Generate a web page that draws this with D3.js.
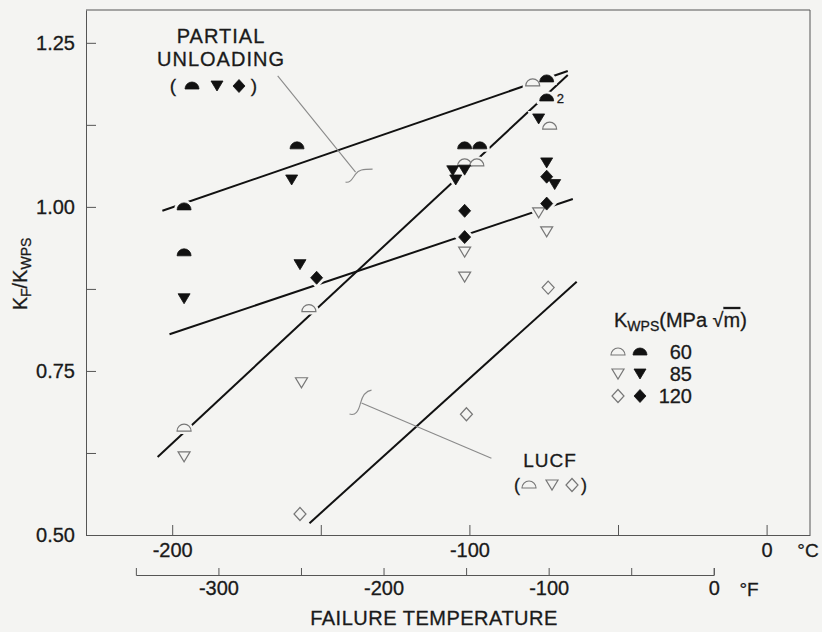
<!DOCTYPE html>
<html>
<head>
<meta charset="utf-8">
<script src="https://cdn.jsdelivr.net/npm/d3@7"></script>
<style>
  body { margin: 0; background: #f4f4f2; }
  svg { display: block; }
  text { font-family: "Liberation Sans", Arial, Helvetica, sans-serif; fill: #1a1a1a; stroke: #1a1a1a; stroke-width: 0.3px; }
</style>
</head>
<body>
<div id="chart"></div>
<script>
// K_WPS levels (MPa sqrt m)
const kwpsLevels = [60, 85, 120];

// [failure temperature degC, Kf/Kwps]  -- partial unloading (filled)
const pu60 = [[-196, 1.00], [-196, 0.93], [-158, 1.093], [-101.6, 1.093], [-96.5, 1.093], [-74, 1.195], [-74, 1.166]];
const pu85 = [[-196, 0.86], [-159.8, 1.041], [-157, 0.912], [-105.6, 1.055], [-101.6, 1.056], [-104.6, 1.041], [-76.7, 1.134], [-74, 1.067], [-71.3, 1.034]];
const pu120 = [[-151.4, 0.892], [-101.6, 0.994], [-101.6, 0.954], [-74, 1.046], [-74, 1.005]];

// LUCF (open)
const lucf60 = [[-196, 0.663], [-154, 0.845], [-101.6, 1.067], [-97.5, 1.067], [-78.7, 1.189], [-73, 1.123]];
const lucf85 = [[-196, 0.619], [-156.5, 0.732], [-101.6, 0.931], [-101.6, 0.893], [-76.7, 0.991], [-74, 0.962]];
const lucf120 = [[-157, 0.532], [-101, 0.684], [-73.5, 0.877]];

// fitted trend lines, end points [degC, Kf/Kwps]
const fitTop = [[-203.3, 0.994], [-66.9, 1.207]];
const fitSteep = [[-204.9, 0.619], [-66.9, 1.201]];
const fitMid = [[-200.9, 0.806], [-65.2, 1.012]];
const fitLow = [[-153.8, 0.518], [-63.9, 0.886]];

// axis ticks
const yTicks = [0.5, 0.625, 0.75, 0.875, 1.0, 1.125, 1.25];
const yLabels = [0.5, 0.75, 1.0, 1.25];
const cTicks = [-200, -150, -100, -50, 0];
const cLabels = [-200, -100, 0];
const fTicks = [-300, -250, -200, -150, -100, -50, 0];
const fLabels = [-300, -200, -100, 0];

const W = 822, H = 632;
const bg = "#f4f4f2";
const plot = { left: 86, right: 810, top: 10, bottom: 535 };

const svg = d3.select("#chart").append("svg")
  .attr("width", W)
  .attr("height", H);

svg.append("rect").attr("width", W).attr("height", H).attr("fill", bg);

const x = d3.scaleLinear().domain([-229, 14.6]).range([plot.left, plot.right]);
const y = d3.scaleLinear().domain([0.5, 1.3]).range([plot.bottom, plot.top]);
const fToC = f => (f - 32) * 5 / 9;
const xF = d3.scaleLinear().domain([-350, 0]).range([x(fToC(-350)), x(fToC(0))]);

const shapes = {
  half: "M-7,3A7,7 0 0 1 7,3Z",
  tri: "M-6,-5L6,-5L0,5Z",
  dia: "M0,-6.5L6,0L0,6.5L-6,0Z"
};

// frame (top + right)
svg.append("path")
  .attr("d", `M${plot.left},${plot.top}H${plot.right}V${plot.bottom}`)
  .attr("fill", "none")
  .attr("stroke", "#555")
  .attr("stroke-width", 1);

// y axis
const yAxis = svg.append("g")
  .attr("transform", `translate(${plot.left},0)`)
  .call(d3.axisLeft(y).tickValues(yTicks).tickSizeInner(-10).tickSizeOuter(0).tickPadding(11)
    .tickFormat(d => yLabels.includes(d) ? d3.format(".2f")(d) : ""));

// celsius axis
const cAxis = svg.append("g")
  .attr("transform", `translate(0,${plot.bottom})`)
  .call(d3.axisBottom(x).tickValues(cTicks).tickSizeInner(-10).tickSizeOuter(0).tickPadding(8)
    .tickFormat(d => cLabels.includes(d) ? d : ""));

// fahrenheit axis
const fAxis = svg.append("g")
  .attr("transform", "translate(0,575)")
  .call(d3.axisBottom(xF).tickValues(fTicks).tickSizeInner(-7).tickSizeOuter(-7).tickPadding(6)
    .tickFormat(d => fLabels.includes(d) ? d : ""));

[yAxis, cAxis, fAxis].forEach(g => {
  g.selectAll("path, line").attr("stroke", "#555").attr("stroke-width", 1);
  g.selectAll("text").style("font-size", "20px").attr("fill", "#1a1a1a")
    .style("font-family", '"Liberation Sans", Arial, sans-serif');
});

svg.append("text").attr("x", 808).attr("y", 557).attr("text-anchor", "middle")
  .style("font-size", "19px").text("°C");
svg.append("text").attr("x", 749).attr("y", 596).attr("text-anchor", "middle")
  .style("font-size", "19px").text("°F");

svg.append("text")
  .attr("x", 434).attr("y", 625)
  .attr("text-anchor", "middle")
  .style("font-size", "20px")
  .style("letter-spacing", "0.5px")
  .text("FAILURE TEMPERATURE");

// y label
const yl = svg.append("text")
  .attr("transform", "translate(27,274) rotate(-90)")
  .attr("text-anchor", "middle")
  .style("font-size", "20px");
yl.append("tspan").text("K");
yl.append("tspan").style("font-size", "14px").attr("dy", 4).text("F");
yl.append("tspan").attr("dy", -4).text("/K");
yl.append("tspan").style("font-size", "14px").attr("dy", 4).text("WPS");

// trend lines
const line = d3.line().x(d => x(d[0])).y(d => y(d[1]));
svg.append("g").selectAll("path")
  .data([fitTop, fitSteep, fitMid, fitLow])
  .join("path")
  .attr("d", line)
  .attr("fill", "none")
  .attr("stroke", "#111")
  .attr("stroke-width", 2);

// leader lines + braces
const lead = svg.append("g").attr("fill", "none").attr("stroke", "#8a8a8a").attr("stroke-width", 1.1);
lead.append("line").attr("x1", x(-164.5)).attr("y1", y(1.1997)).attr("x2", x(-138.3)).attr("y2", y(1.053));
lead.append("path")
  .attr("transform", `translate(${x(-138.3)},${y(1.053)})`)
  .attr("d", "M-10,10C-5,11 -3,6 0,2S7,-3 17,-3");
lead.append("line").attr("x1", x(-136.3)).attr("y1", y(0.701)).attr("x2", x(-92.6)).attr("y2", y(0.617));
lead.append("path")
  .attr("transform", `translate(${x(-136.3)},${y(0.701)})`)
  .attr("d", "M-12,11C-6,13 -3,8 -1,0S4,-12 10,-13");

// markers
const series = [
  { data: lucf60, shape: "half", open: true },
  { data: lucf85, shape: "tri", open: true },
  { data: lucf120, shape: "dia", open: true },
  { data: pu60, shape: "half", open: false },
  { data: pu85, shape: "tri", open: false },
  { data: pu120, shape: "dia", open: false }
];

const halo = svg.append("g");
const marks = svg.append("g");
series.forEach(s => {
  halo.selectAll(null).data(s.data).join("path")
    .attr("transform", d => `translate(${x(d[0])},${y(d[1])})`)
    .attr("d", shapes[s.shape])
    .attr("fill", bg).attr("stroke", bg).attr("stroke-width", 6);
});
series.forEach(s => {
  marks.selectAll(null).data(s.data).join("path")
    .attr("transform", d => `translate(${x(d[0])},${y(d[1])})`)
    .attr("d", shapes[s.shape])
    .attr("fill", s.open ? bg : "#111")
    .attr("stroke", s.open ? "#777" : "#111")
    .attr("stroke-width", s.open ? 1.2 : 0.8);
});

// duplicate count next to the 1.166 point
svg.append("text").attr("x", x(-74) + 10).attr("y", y(1.166) + 5)
  .style("font-size", "13px").text("2");

// annotation labels
function symbol(g, shape, open, cx, cy) {
  g.append("path")
    .attr("transform", `translate(${cx},${cy})`)
    .attr("d", shapes[shape])
    .attr("fill", open ? bg : "#111")
    .attr("stroke", open ? "#777" : "#111")
    .attr("stroke-width", open ? 1.2 : 0.8);
}

const pu = svg.append("g");
pu.append("text").attr("x", 221).attr("y", 43).attr("text-anchor", "middle")
  .style("font-size", "20px").style("letter-spacing", "1px").text("PARTIAL");
pu.append("text").attr("x", 221).attr("y", 66).attr("text-anchor", "middle")
  .style("font-size", "20px").style("letter-spacing", "1px").text("UNLOADING");
pu.append("text").attr("x", 173).attr("y", 92).attr("text-anchor", "middle").style("font-size", "19px").text("(");
pu.append("text").attr("x", 254).attr("y", 92).attr("text-anchor", "middle").style("font-size", "19px").text(")");
["half", "tri", "dia"].forEach((sh, i) => symbol(pu, sh, false, [192, 217, 239][i], 86));

const lu = svg.append("g");
lu.append("text").attr("x", 550).attr("y", 467).attr("text-anchor", "middle")
  .style("font-size", "19px").style("letter-spacing", "1px").text("LUCF");
lu.append("text").attr("x", 517).attr("y", 491).attr("text-anchor", "middle").style("font-size", "18px").text("(");
lu.append("text").attr("x", 584).attr("y", 491).attr("text-anchor", "middle").style("font-size", "18px").text(")");
["half", "tri", "dia"].forEach((sh, i) => symbol(lu, sh, true, [529, 552, 572][i], 485));

// legend
const lg = svg.append("g");
const lt = lg.append("text").attr("x", 614).attr("y", 327).style("font-size", "20px");
lt.append("tspan").text("K");
lt.append("tspan").style("font-size", "14px").attr("dy", 4).text("WPS");
lt.append("tspan").attr("dy", -4).text("(MPa  √");
lt.append("tspan").style("text-decoration", "overline").text("m");
lt.append("tspan").text(")");

const shapeOf = ["half", "tri", "dia"];
kwpsLevels.forEach((k, i) => {
  const cy = 352 + i * 22;
  symbol(lg, shapeOf[i], true, 618, cy);
  symbol(lg, shapeOf[i], false, 640, cy);
  lg.append("text").attr("x", 692).attr("y", cy + 7).attr("text-anchor", "end")
    .style("font-size", "20px").text(k);
});
</script>
</body>
</html>
